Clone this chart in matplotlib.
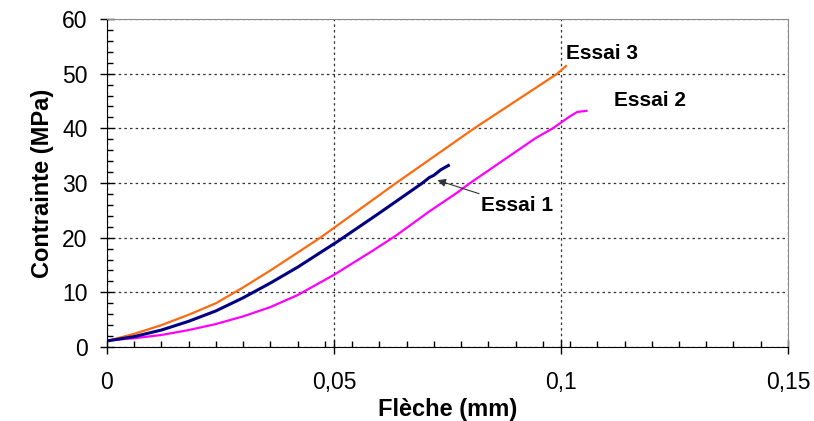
import numpy as np
import matplotlib
matplotlib.use("Agg")
import matplotlib.pyplot as plt
from matplotlib.ticker import MultipleLocator

plt.rcParams['font.family'] = ['Liberation Sans', 'DejaVu Sans']

# Essai 1 (bleu)
x1 = [0, 0.006, 0.012, 0.018, 0.024, 0.030, 0.036, 0.042, 0.0508, 0.060,
      0.0695, 0.0710, 0.0720, 0.0735, 0.0752]
y1 = [1.1, 1.9, 3.1, 4.7, 6.6, 9.0, 11.7, 14.6, 19.3, 24.5,
      30.0, 31.0, 31.4, 32.4, 33.2]

# Essai 2 (magenta)
x2 = [0, 0.006, 0.012, 0.018, 0.024, 0.030, 0.036, 0.042, 0.050, 0.0585,
      0.0637, 0.0710, 0.0769, 0.0800, 0.0944, 0.0982, 0.1018, 0.1036, 0.1056]
y2 = [1.2, 1.6, 2.2, 3.1, 4.2, 5.6, 7.3, 9.5, 13.2, 17.6,
      20.4, 24.8, 28.1, 30.0, 38.2, 40.0, 42.1, 43.0, 43.2]

# Essai 3 (orange)
x3 = [0, 0.006, 0.012, 0.018, 0.024, 0.030, 0.036, 0.047, 0.0637, 0.0809,
      0.0992, 0.1011]
y3 = [1.1, 2.4, 4.0, 5.9, 8.0, 10.9, 14.0, 20.0, 30.0, 40.0,
      50.0, 51.4]

x_ticks = [0, 0.05, 0.1, 0.15]
x_tick_labels = ['0', '0,05', '0,1', '0,15']
y_ticks = [0, 10, 20, 30, 40, 50, 60]

fig = plt.figure(figsize=(8.14, 4.21), dpi=100)
ax = fig.add_axes([0.1314, 0.1758, 0.8366, 0.7791])

ax.plot(x3, y3, color='#FF6A10', lw=1.6)
ax.plot(x2, y2, color='#FF00FF', lw=1.6)
ax.plot(x1, y1, color='#000080', lw=2.2)

ax.set_xlim(0, 0.15)
ax.set_ylim(0, 60)
ax.set_xticks(x_ticks)
ax.set_xticklabels(x_tick_labels)
ax.set_yticks(y_ticks)
ax.xaxis.set_minor_locator(MultipleLocator(0.006))
ax.yaxis.set_minor_locator(MultipleLocator(2))

ax.tick_params(which='major', direction='inout', length=10, width=1,
               labelsize=16.5, color='black')
ax.tick_params(axis='x', which='major', pad=12)
ax.tick_params(axis='y', which='major', pad=9)
ax.tick_params(which='minor', direction='in', length=4, width=1, color='black')

ax.grid(True, which='major', color='#333333', linestyle=(0, (2, 2.5)), lw=0.9)

for side in ['top', 'right']:
    ax.spines[side].set_color('#8c8c8c')
for side in ['left', 'bottom']:
    ax.spines[side].set_color('black')

ax.set_xlabel('Flèche (mm)', fontsize=17, fontweight='bold', labelpad=3)
ax.set_ylabel('Contrainte (MPa)', fontsize=17, fontweight='bold', labelpad=6)

ax.text(0.1011, 53.6, 'Essai 3', fontsize=15, fontweight='bold', ha='left', va='center')
ax.text(0.1116, 45.1, 'Essai 2', fontsize=15, fontweight='bold', ha='left', va='center')
ax.annotate('Essai 1', xy=(0.0728, 30.5), xytext=(0.0824, 25.8),
            fontsize=15, fontweight='bold', ha='left', va='center',
            arrowprops=dict(arrowstyle='-|>', color='#333333', lw=0.8,
                            shrinkA=0, shrinkB=0, mutation_scale=12))

fig.savefig('out.png', dpi=100)
